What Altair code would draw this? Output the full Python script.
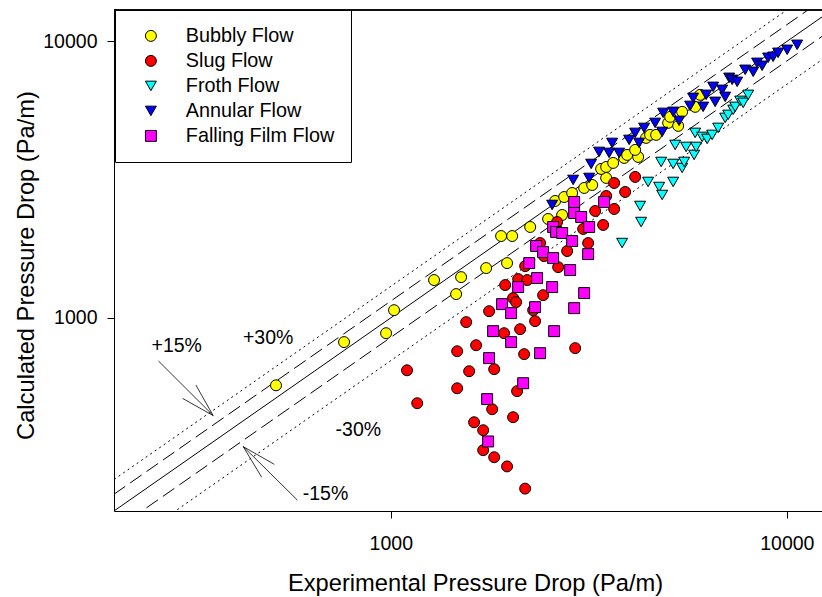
import altair as alt
import pandas as pd

FONT = "Liberation Sans"

types = ["Bubbly Flow", "Slug Flow", "Froth Flow", "Annular Flow", "Falling Film Flow"]
colors = ["#FFFF00", "#FF0000", "#00FFFF", "#0000FF", "#FF00FF"]
shapes = ["circle", "circle", "triangle-down", "triangle-down", "square"]
sizes = [120, 120, 185, 185, 115]

bubbly_x = [513, 762, 973, 1019, 1286, 1462, 1505, 1741, 1966, 1899, 2025, 2249, 2496, 2708, 2600, 2740, 2870, 3078,
            3225, 3498, 3397, 3498, 3643, 3883, 3952, 4213, 4140, 4412, 4516, 4677, 5016, 5317, 5075, 5441, 5868, 6041]
bubbly_y = [570, 817, 880, 1066, 1370, 1219, 1404, 1514, 1578, 1977, 1977, 2132, 2279, 2356, 2648, 2737, 2830, 2951,
            3025, 3208, 3458, 3516, 3635, 3790, 3886, 3822, 4052, 4478, 4592, 4592, 5075, 4950, 5336, 5564, 5800, 6410]

slug_x = [1099, 1166, 1471, 1642, 1550, 1771, 1577, 1471, 1824, 1803, 1623, 1711, 1711, 1824, 1966, 2184, 2036, 2084,
          1932, 2121, 2171, 1944, 2036, 2072, 2097, 2210, 2288, 2314, 2424, 2184, 2438, 2646, 2788, 2382, 2630, 3060,
          3150, 2921, 3281, 3437, 3664, 3498, 3906, 3664, 4140]
slug_y = [646, 491, 757, 796, 965, 1057, 641, 556, 652, 467, 419, 392, 332, 313, 290, 241, 437, 543,
          880, 910, 739, 1314, 1179, 1140, 1381, 1370, 1066, 973, 1208, 1539, 1673, 1526, 1745, 1865, 2222, 2097,
          1865, 777, 2436, 2168, 2477, 2760, 2854, 3076, 3235]

froth_x = [3838, 4261, 4286, 4464, 4760, 4844, 5164, 4816, 5164, 5441, 5505, 5225, 5568, 5834, 5902, 5868, 6112, 6293,
           6478, 6709, 6988, 7111, 7321, 7406, 7625, 7759, 7988]
froth_y = [1865, 2540, 2222, 3103, 2975, 2783, 3103, 3665, 3605, 3487, 3665, 4224, 4154, 3886, 4154, 4669, 4516, 4441,
           4592, 4868, 5291, 5426, 5657, 5800, 6098, 5997, 6410]

annular_x = [2555, 2887, 3169, 3206, 3357, 3559, 3622, 3772, 3998, 4140, 4236, 4361, 4650, 4844, 4872, 5164, 5346,
             5699, 5800, 6148, 6256, 6516, 6592, 6867, 6988, 7152, 7279, 7493, 7850, 8224, 8414, 8662, 8970, 9235,
             9507, 10020, 10620]
annular_y = [2561, 3155, 3208, 3605, 3985, 3952, 4295, 3952, 4404, 4669, 4295, 4868, 5075, 4708, 5517, 5564, 5161,
             5848, 6252, 5800, 6410, 6853, 6047, 6683, 6304, 7388, 7265, 7145, 7898, 7767, 8370, 8166, 8729, 8803,
             9100, 9330, 9727]

film_x = [2904, 3457, 2904, 3025, 3169, 2570, 2615, 2708, 2870, 3150, 2328, 2424, 2570, 2236, 2837, 2341, 2097, 2555,
          3078, 1910, 2013, 2314, 2904, 1813, 2013, 2585, 1771, 2382, 2159, 1751, 1761]
film_y = [2626, 2626, 2395, 2317, 2132, 2132, 2045, 2028, 1896, 1701, 1819, 1730, 1645, 1578, 1489, 1393, 1292, 1292,
          1229, 1121, 1040, 1093, 1084, 895, 817, 895, 715, 745, 580, 508, 357]

# reference lines y = factor * x
ref_x = [150, 15000]
ref_factor = [1.0, 1.15, 0.85, 1.30, 0.70]
ref_style = ["solid", "dash", "dash", "dot", "dot"]

# annotations
label_text = ["+15%", "+30%", "-30%", "-15%"]
label_x = [288, 490, 828, 684]
label_y = [754, 804, 375, 219]

arrow_x = [259, 298, 322, 581, 472, 508]
arrow_y = [698, 511, 571, 219, 265, 295]
arrow_x2 = [356, 356, 356, 424, 424, 424]
arrow_y2 = [443, 443, 443, 342, 342, 342]

X_DOMAIN = [200, 12270]
Y_DOMAIN = [200, 13000]

series = [(bubbly_x, bubbly_y), (slug_x, slug_y), (froth_x, froth_y), (annular_x, annular_y), (film_x, film_y)]
rows = []
for t, (xs_, ys_) in zip(types, series):
    for a, b in zip(xs_, ys_):
        rows.append({"type": t, "x": a, "y": b})
pts = pd.DataFrame(rows)

line_rows = []
for i, (f, s) in enumerate(zip(ref_factor, ref_style)):
    for xv in ref_x:
        line_rows.append({"id": i, "style": s, "x": xv, "y": xv * f})
lines = pd.DataFrame(line_rows)

labels = pd.DataFrame({"text": label_text, "x": label_x, "y": label_y})
arrows = pd.DataFrame({"x": arrow_x, "y": arrow_y, "x2": arrow_x2, "y2": arrow_y2})

xs = alt.Scale(type="log", domain=X_DOMAIN)
ys = alt.Scale(type="log", domain=Y_DOMAIN)

x_axis = alt.Axis(
    values=[1000, 10000], format="d", title="Experimental Pressure Drop (Pa/m)",
    labelBaseline="alphabetic", labelPadding=31, titleX=361, titleY=79.7,
    titleBaseline="alphabetic")
y_axis = alt.Axis(
    values=[1000, 10000], format="d", title="Calculated Pressure Drop (Pa/m)",
    labelPadding=10, labelBaseline="middle", titleX=-80.7, titleY=255,
    titleBaseline="alphabetic")


def X(field="x:Q"):
    return alt.X(field, scale=xs, axis=x_axis)


def Y(field="y:Q"):
    return alt.Y(field, scale=ys, axis=y_axis)


def line_layer(style, dash):
    base = alt.Chart(lines).transform_filter(alt.datum.style == style)
    kw = {"strokeDash": dash} if dash else {}
    return base.mark_line(color="black", strokeWidth=1, clip=True, **kw).encode(
        x=X(), y=Y(), detail="id:N",
    )


solid = line_layer("solid", None)
dashed = line_layer("dash", [14, 6])
dotted = line_layer("dot", [2, 3.5])

legend_kw = dict(
    title=None, orient="none", legendX=1, legendY=0, padding=16,
    strokeColor="black", fillColor="white", labelFontSize=19.8, labelFont=FONT,
    labelColor="black", rowPadding=4, symbolOffset=10, labelOffset=25,
    symbolStrokeWidth=1,
)

points = alt.Chart(pts).mark_point(filled=True, strokeWidth=1, opacity=1).encode(
    x=X(), y=Y(),
    fill=alt.Fill("type:N", scale=alt.Scale(domain=types, range=colors), legend=alt.Legend(**legend_kw)),
    stroke=alt.Stroke("type:N", scale=alt.Scale(domain=types, range=["black"] * 5), legend=alt.Legend(**legend_kw)),
    shape=alt.Shape("type:N", scale=alt.Scale(domain=types, range=shapes), legend=alt.Legend(**legend_kw)),
    size=alt.Size("type:N", scale=alt.Scale(domain=types, range=sizes), legend=alt.Legend(**legend_kw)),
)

arrow_layer = alt.Chart(arrows).mark_rule(color="black", strokeWidth=0.8).encode(
    x=X(), y=Y(), x2="x2:Q", y2="y2:Q",
)

text_layer = alt.Chart(labels).mark_text(
    font=FONT, fontSize=19.5, color="black", align="center", baseline="alphabetic"
).encode(x=X(), y=Y(), text="text:N")

top_border = alt.Chart(labels).mark_rule(color="black", strokeWidth=1.2).encode(
    x=alt.value(0), x2=alt.value(708), y=alt.value(0)
)

chart = alt.layer(solid, dashed, dotted, arrow_layer, text_layer, points, top_border).properties(
    width=708, height=501,
    autosize=alt.AutoSizeParams(type="none"),
    padding={"left": 114, "top": 10, "right": 0, "bottom": 86},
).configure_view(stroke=None).configure_axis(
    grid=False, domainColor="black", tickColor="black", labelColor="black", titleColor="black",
    labelFont=FONT, titleFont=FONT, labelFontSize=19.5, titleFontSize=23.7, titleFontWeight="normal",
    tickSize=7, domainWidth=1, tickWidth=1,
)

chart.save("out.html", embed_options={"renderer": "svg", "actions": False})
